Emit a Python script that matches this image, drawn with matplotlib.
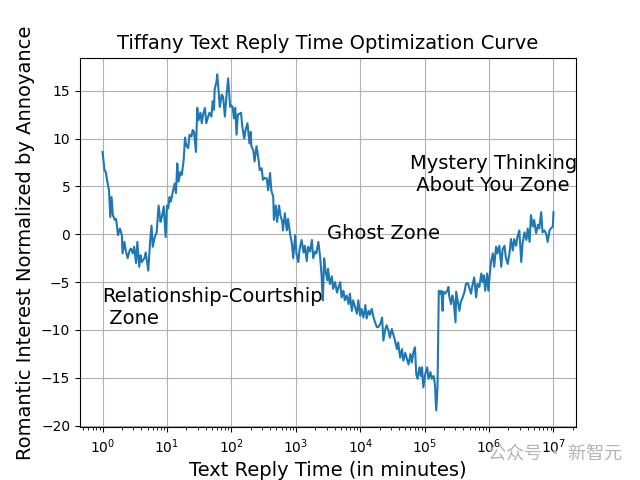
import numpy as np
import matplotlib.pyplot as plt


OUT_FILE = "out.png"

# reply time as powers of ten (minutes)
reply_time_exp = [
    0.00, 0.03, 0.05, 0.08, 0.10, 0.12, 0.14, 0.16, 0.19, 0.21,
    0.22, 0.24, 0.27, 0.30, 0.31, 0.34, 0.36, 0.39, 0.42, 0.44,
    0.47, 0.49, 0.52, 0.54, 0.57, 0.59, 0.61, 0.65, 0.67, 0.71,
    0.74, 0.76, 0.78, 0.81, 0.84, 0.87, 0.90, 0.92, 0.95, 0.98,
    1.00, 1.02, 1.04, 1.06, 1.09, 1.12, 1.14, 1.16, 1.18, 1.21,
    1.23, 1.26, 1.28, 1.30, 1.33, 1.35, 1.38, 1.40, 1.42, 1.45,
    1.47, 1.49, 1.52, 1.54, 1.56, 1.59, 1.61, 1.64, 1.66, 1.69,
    1.71, 1.73, 1.74, 1.77, 1.78, 1.80, 1.82, 1.85, 1.87, 1.90,
    1.92, 1.95, 1.98, 1.99, 2.02, 2.04, 2.06, 2.08, 2.10, 2.13,
    2.15, 2.17, 2.20, 2.22, 2.25, 2.28, 2.30, 2.31, 2.34, 2.36,
    2.39, 2.42, 2.44, 2.47, 2.49, 2.52, 2.55, 2.57, 2.60, 2.62,
    2.65, 2.66, 2.69, 2.71, 2.74, 2.76, 2.79, 2.80, 2.83, 2.86,
    2.88, 2.91, 2.94, 2.96, 2.99, 3.01, 3.04, 3.06, 3.09, 3.12,
    3.14, 3.17, 3.19, 3.22, 3.25, 3.27, 3.30, 3.32, 3.35, 3.38,
    3.40, 3.42, 3.44, 3.46, 3.49, 3.50, 3.53, 3.56, 3.58, 3.61,
    3.64, 3.66, 3.69, 3.71, 3.74, 3.76, 3.79, 3.82, 3.84, 3.87,
    3.89, 3.92, 3.95, 3.97, 4.00, 4.02, 4.05, 4.08, 4.10, 4.13,
    4.15, 4.18, 4.20, 4.23, 4.26, 4.28, 4.31, 4.34, 4.36, 4.39,
    4.41, 4.44, 4.46, 4.49, 4.52, 4.54, 4.57, 4.59, 4.62, 4.65,
    4.67, 4.70, 4.72, 4.75, 4.78, 4.80, 4.83, 4.85, 4.87, 4.89,
    4.92, 4.94, 4.96, 4.98, 5.01, 5.04, 5.06, 5.09, 5.11, 5.14,
    5.16, 5.18, 5.20, 5.22, 5.24, 5.26, 5.28, 5.29, 5.32, 5.35,
    5.37, 5.38, 5.41, 5.43, 5.45, 5.48, 5.49, 5.51, 5.54, 5.56,
    5.59, 5.62, 5.64, 5.67, 5.69, 5.72, 5.74, 5.77, 5.80, 5.82,
    5.85, 5.88, 5.90, 5.92, 5.94, 5.97, 5.99, 6.01, 6.03, 6.06,
    6.08, 6.11, 6.13, 6.16, 6.19, 6.21, 6.24, 6.26, 6.29, 6.32,
    6.34, 6.37, 6.39, 6.42, 6.44, 6.47, 6.50, 6.52, 6.55, 6.58,
    6.60, 6.63, 6.65, 6.68, 6.70, 6.73, 6.76, 6.78, 6.81, 6.83,
    6.86, 6.89, 6.91, 6.94, 6.96, 6.99, 7.00,
]

romantic_interest = [
    8.6, 6.7, 6.5, 5.3, 4.6, 1.8, 3.9, 2.0, 1.5, 1.6,
    1.1, -0.1, 0.6, -0.1, -2.0, -0.8, -1.7, -2.5, -1.7, -1.5,
    -2.0, -1.3, -3.0, -0.8, -3.4, -2.2, -2.9, -2.5, -1.9, -3.8,
    -0.6, 0.9, -1.3, -0.3, 0.2, 3.0, 1.3, 1.8, 2.9, -0.3,
    3.0, 2.7, 3.9, 3.4, 4.4, 5.3, 4.3, 7.4, 5.5, 6.5,
    6.2, 7.8, 10.1, 9.3, 9.0, 10.4, 10.2, 10.9, 10.7, 8.6,
    13.2, 11.9, 12.7, 11.6, 12.5, 13.2, 11.6, 12.3, 12.7, 12.3,
    13.9, 13.0, 15.1, 16.0, 16.7, 15.1, 13.3, 14.6, 14.4, 12.3,
    14.2, 16.3, 13.3, 13.5, 13.3, 12.1, 13.2, 10.4, 12.5, 12.6,
    12.7, 11.2, 10.0, 10.9, 11.6, 9.5, 10.7, 9.2, 8.8, 7.6,
    9.2, 7.9, 6.7, 6.9, 5.7, 5.9, 5.8, 4.6, 6.4, 4.6,
    3.9, 1.5, 3.0, 1.3, 3.0, 2.0, 1.3, 0.4, 2.2, 0.4,
    1.6, 0.1, -1.0, -2.5, -0.1, -2.0, -2.9, -1.5, -0.6, -1.9,
    -1.2, -2.8, -1.3, -1.8, -0.6, -2.5, -1.8, -2.0, -0.8, -2.5,
    -4.3, -6.9, -2.5, -3.8, -4.8, -3.6, -5.2, -4.4, -5.7, -5.0,
    -6.1, -5.6, -5.0, -6.6, -5.9, -6.9, -6.4, -7.3, -6.2, -8.0,
    -6.9, -7.6, -8.3, -6.9, -8.5, -7.8, -8.7, -7.4, -8.8, -8.0,
    -8.4, -7.8, -8.5, -9.2, -9.7, -9.7, -9.4, -8.7, -11.1, -9.9,
    -9.5, -10.1, -10.8, -9.9, -10.6, -11.1, -12.0, -11.3, -12.9, -12.0,
    -13.2, -12.4, -12.9, -13.6, -12.5, -13.4, -12.2, -11.8, -14.6, -15.1,
    -13.9, -14.8, -13.9, -16.0, -14.6, -13.9, -15.1, -14.4, -15.1, -14.8,
    -15.7, -18.4, -16.0, -5.9, -6.2, -5.9, -8.0, -6.0, -6.2, -5.9,
    -5.5, -6.4, -7.3, -6.4, -6.9, -9.2, -6.0, -6.8, -8.0, -7.1,
    -6.6, -6.0, -5.2, -5.1, -5.5, -6.2, -5.4, -4.5, -6.6, -5.2,
    -5.5, -4.1, -5.0, -4.3, -5.9, -4.1, -5.9, -4.3, -2.9, -2.0,
    -3.4, -1.3, -2.0, -1.2, -3.4, -1.6, -1.2, -2.4, -3.1, -1.9,
    -0.5, -1.7, -0.5, -1.2, -0.3, 0.4, -2.9, -1.0, 0.2, -0.6,
    0.6, -0.8, 2.0, 0.8, 1.5, 0.1, 1.0, 0.6, 2.3, 0.2,
    0.4, 0.0, -0.8, 0.4, 0.6, 0.8, 2.3,
]

# zone labels: (text, x in minutes, y)
zone_labels = [
    ("Relationship-Courtship\n Zone", 1.0, -7.7),
    ("Ghost Zone", 3.0e3, 0.1),
    ("Mystery Thinking\n About You Zone", 6.0e4, 6.2),
]


def make_plot():
    reply_time = 10.0 ** np.array(reply_time_exp)

    plt.figure(figsize=(6.4, 4.8), dpi=100)
    plt.plot(reply_time, romantic_interest, color="#1f77b4")
    plt.xscale("log")

    for label, x, y in zone_labels:
        plt.text(x, y, label, fontsize=14, ha="left", va="center")

    plt.xlabel("Text Reply Time (in minutes)", fontsize=14)
    plt.ylabel("Romantic Interest Normalized by Annoyance", fontsize=14)
    plt.title("Tiffany Text Reply Time Optimization Curve", fontsize=14)
    plt.grid(True)

    # watermark in the bottom right corner
    plt.gcf().text(0.762, 0.056, "公众号 · 新智元", fontsize=13, color="#b4b4b4",
                   va="center", family=["Noto Sans CJK SC", "DejaVu Sans"])

    plt.savefig(OUT_FILE)
    plt.close()


if __name__ == "__main__":
    make_plot()
